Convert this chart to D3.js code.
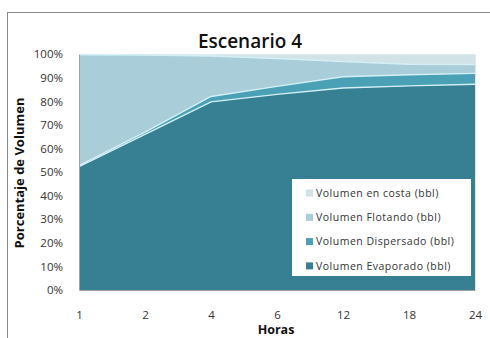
<!DOCTYPE html>
<html>
<head>
<meta charset="utf-8">
<script src="https://cdn.jsdelivr.net/npm/d3@7"></script>
<style>
  html, body { margin: 0; padding: 0; background: #ffffff; }
  svg { display: block; }
  text { font-family: "Open Sans", "DejaVu Sans", sans-serif; }
</style>
</head>
<body>
<div id="chart"></div>
<script>
// Categories (hours) and percentage of volume for each fate of the spill
const hours = ["1", "2", "4", "6", "12", "18", "24"];
const evaporado  = [52.3, 66.0, 79.8, 83.0, 85.7, 86.6, 87.3];
const dispersado = [0.5, 1.0, 2.3, 3.4, 4.8, 4.7, 4.6];
const flotando   = [47.0, 32.7, 17.2, 11.8, 6.4, 4.5, 3.8];
const costa      = [0.2, 0.3, 0.7, 1.8, 3.1, 4.2, 4.3];
const yTicks = [0, 10, 20, 30, 40, 50, 60, 70, 80, 90, 100];

const seriesNames = ["Volumen Evaporado (bbl)", "Volumen Dispersado (bbl)", "Volumen Flotando (bbl)", "Volumen en costa (bbl)"];
const seriesKeys = ["evaporado", "dispersado", "flotando", "costa"];
const seriesColors = ["#377f92", "#4aa0b4", "#a9cdd9", "#d2e3e8"];

const W = 490, H = 338;
const margin = { left: 79, right: 15, top: 54.3, bottom: 48 };

const svg = d3.select("#chart").append("svg")
  .attr("width", W).attr("height", H);

// frame lines at the top and left of the chart panel
svg.append("line").attr("x1", 7).attr("x2", W).attr("y1", 12.5).attr("y2", 12.5)
  .attr("stroke", "#8a8a8a").attr("stroke-width", 1);
svg.append("line").attr("x1", 7.5).attr("x2", 7.5).attr("y1", 12).attr("y2", H)
  .attr("stroke", "#8a8a8a").attr("stroke-width", 1);

const table = hours.map((h, i) => ({
  hora: h,
  evaporado: evaporado[i],
  dispersado: dispersado[i],
  flotando: flotando[i],
  costa: costa[i]
}));

const x = d3.scalePoint().domain(hours).range([margin.left, W - margin.right]);
const y = d3.scaleLinear().domain([0, 100]).range([H - margin.bottom, margin.top]);

const stack = d3.stack().keys(seriesKeys);
const layers = stack(table);

const area = d3.area()
  .x(d => x(d.data.hora))
  .y0(d => y(d[0]))
  .y1(d => y(d[1]));

const line = d3.line()
  .x(d => x(d.data.hora))
  .y(d => y(d[1]));

const plot = svg.append("g");
plot.selectAll("path.layer")
  .data(layers)
  .join("path")
  .attr("class", "layer")
  .attr("d", area)
  .attr("fill", (d, i) => seriesColors[i]);

// light separator lines along each layer boundary
plot.selectAll("path.sep")
  .data(layers.slice(0, 3))
  .join("path")
  .attr("class", "sep")
  .attr("d", line)
  .attr("fill", "none")
  .attr("stroke", "#d4f0f6")
  .attr("stroke-width", 1.4);

// axes
const yAxis = d3.axisLeft(y).tickValues(yTicks).tickFormat(d => d + "%").tickSize(0).tickPadding(16);
const gy = svg.append("g").attr("transform", `translate(${margin.left},0)`).call(yAxis);
gy.select(".domain").attr("stroke", "#a0a0a0");
gy.selectAll("text").attr("font-size", 11.5).attr("fill", "#333");

const xAxis = d3.axisBottom(x).tickSize(0).tickPadding(21);
const gx = svg.append("g").attr("transform", `translate(0,${H - margin.bottom})`).call(xAxis);
gx.select(".domain").attr("stroke", "#a0a0a0");
gx.selectAll("text").attr("font-size", 11.5).attr("fill", "#333");

// right edge of the plot area
svg.append("line")
  .attr("x1", W - margin.right + 0.5).attr("x2", W - margin.right + 0.5)
  .attr("y1", margin.top).attr("y2", H - margin.bottom)
  .attr("stroke", "#e4e8ea").attr("stroke-width", 1);

// title
svg.append("text")
  .attr("x", 250).attr("y", 48)
  .attr("text-anchor", "middle")
  .attr("font-size", 19)
  .attr("font-weight", 600)
  .attr("fill", "#111")
  .text("Escenario 4");

// axis titles
svg.append("text")
  .attr("transform", "translate(24,173) rotate(-90)")
  .attr("text-anchor", "middle")
  .attr("font-size", 13)
  .attr("font-weight", "bold")
  .attr("fill", "#111")
  .text("Porcentaje de Volumen");

svg.append("text")
  .attr("x", 276).attr("y", 334)
  .attr("text-anchor", "middle")
  .attr("font-size", 12.5)
  .attr("font-weight", "bold")
  .attr("fill", "#111")
  .text("Horas");

// legend, listed top layer first
const legendOrder = [3, 2, 1, 0];
const lg = svg.append("g");
lg.append("rect")
  .attr("x", 292).attr("y", 179)
  .attr("width", 179).attr("height", 97)
  .attr("fill", "#ffffff");

const items = lg.selectAll("g.item")
  .data(legendOrder)
  .join("g")
  .attr("class", "item")
  .attr("transform", (d, i) => `translate(306,${193 + i * 24.3})`);

items.append("rect")
  .attr("x", 0).attr("y", -3.5)
  .attr("width", 7).attr("height", 7)
  .attr("fill", d => seriesColors[d]);

items.append("text")
  .attr("x", 10).attr("y", 0)
  .attr("dy", "0.35em")
  .attr("font-size", 10.5)
  .attr("fill", "#333")
  .attr("letter-spacing", 0.5)
  .text(d => seriesNames[d]);
</script>
</body>
</html>
